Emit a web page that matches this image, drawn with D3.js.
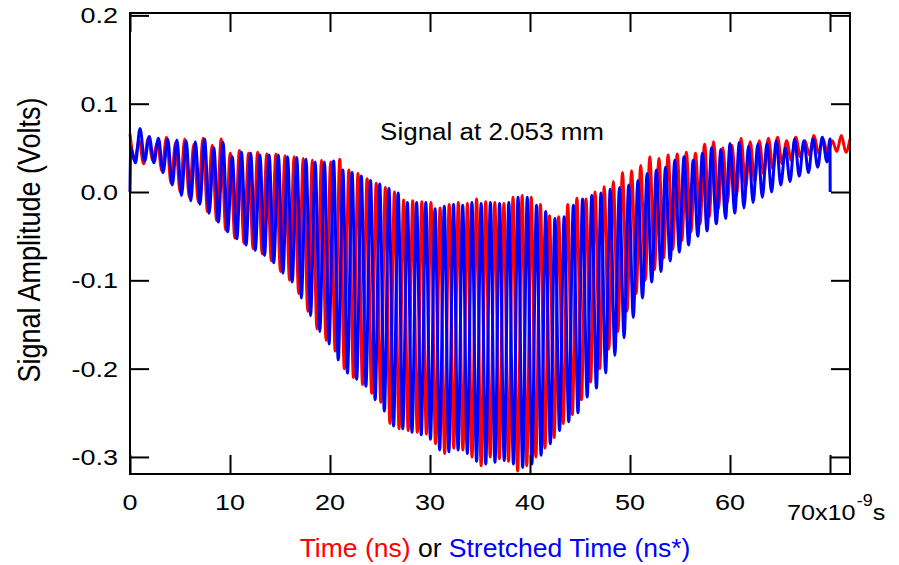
<!DOCTYPE html>
<html>
<head>
<meta charset="utf-8">
<script src="https://cdn.jsdelivr.net/npm/d3@7/dist/d3.min.js"></script>
<style>
  html, body { margin: 0; padding: 0; background: #fff; }
  svg { display: block; }
  text { font-family: "Liberation Sans", Arial, sans-serif; }
</style>
</head>
<body>
<svg id="chart" width="899" height="565"></svg>
<script>
// ---------------- DATA ----------------
const xTicks = [0, 10, 20, 30, 40, 50, 60, 70];
const yTicks = [-0.3, -0.2, -0.1, 0.0, 0.1, 0.2];
const xTickLabels = ["0", "10", "20", "30", "40", "50", "60", ""];
const yTickLabels = ["-0.3", "-0.2", "-0.1", "0.0", "0.1", "0.2"];
const titleText = "Signal at 2.053 mm";
const yLabel = "Signal Amplitude (Volts)";

// Red series "Time (ns)": one peak + one trough per oscillation cycle
const redFirstPeak = 0.0;   // ns
const redPeriod = 0.912;    // ns
const redHi = [0.066,0.058,0.061,0.057,0.062,0.056,0.060,0.054,0.061,0.053,
  0.060,0.044,0.047,0.044,0.045,0.043,0.043,0.041,0.040,0.038,
  0.036,0.036,0.034,0.037,0.025,0.021,0.015,0.010,0.005,0.000,
  -0.009,-0.010,-0.011,-0.012,-0.018,-0.014,-0.012,-0.013,-0.008,-0.011,
  -0.012,-0.013,-0.006,-0.004,-0.006,-0.014,-0.027,-0.028,-0.014,-0.007,
  -0.008,0.000,0.006,0.012,0.022,0.024,0.030,0.040,0.038,0.042,
  0.043,0.045,0.044,0.054,0.057,0.050,0.053,0.061,0.057,0.058,
  0.061,0.062,0.058,0.062,0.058,0.064,0.060,0.058,0.064];
const redLo = [0.036,0.032,0.036,0.024,0.010,0.000,-0.006,-0.012,-0.022,-0.032,
  -0.043,-0.052,-0.058,-0.064,-0.070,-0.078,-0.090,-0.100,-0.115,-0.135,
  -0.155,-0.168,-0.180,-0.200,-0.210,-0.218,-0.228,-0.238,-0.262,-0.268,
  -0.270,-0.272,-0.274,-0.285,-0.296,-0.290,-0.292,-0.300,-0.310,-0.300,
  -0.302,-0.305,-0.316,-0.310,-0.300,-0.290,-0.278,-0.262,-0.252,-0.235,
  -0.215,-0.200,-0.178,-0.158,-0.135,-0.115,-0.100,-0.088,-0.075,-0.065,
  -0.055,-0.045,-0.036,-0.028,-0.020,-0.012,-0.004,0.005,0.012,0.020,
  0.026,0.032,0.036,0.040,0.042,0.044,0.043,0.046,0.045];
const redEnd = [72.0, 0.060];

// Blue series "Stretched Time (ns*)"
const blueStart = [0.0, 0.0];
const blueFirstPeak = 0.08;
const bluePeriod = 0.922;
const blueHi = [0.050,0.072,0.063,0.061,0.060,0.059,0.058,0.057,0.060,0.050,
  0.056,0.040,0.045,0.044,0.042,0.042,0.042,0.040,0.039,0.037,
  0.034,0.034,0.035,0.025,0.022,0.018,0.013,0.009,0.004,-0.001,
  -0.012,-0.012,-0.012,-0.019,-0.016,-0.014,-0.015,-0.012,-0.013,-0.012,
  -0.013,-0.012,-0.006,-0.006,-0.015,-0.022,-0.030,-0.028,-0.015,-0.008,
  -0.004,-0.001,0.003,0.005,0.008,0.013,0.021,0.025,0.028,0.036,
  0.040,0.036,0.044,0.050,0.048,0.055,0.056,0.052,0.054,0.055,
  0.058,0.050,0.060,0.058,0.060,0.062];
const blueLo = [0.033,0.035,0.033,0.022,0.008,-0.004,-0.010,-0.014,-0.024,-0.034,
  -0.045,-0.053,-0.060,-0.066,-0.072,-0.080,-0.092,-0.102,-0.120,-0.140,
  -0.158,-0.172,-0.190,-0.205,-0.212,-0.220,-0.235,-0.248,-0.265,-0.268,
  -0.272,-0.275,-0.280,-0.292,-0.294,-0.292,-0.296,-0.305,-0.308,-0.306,
  -0.304,-0.308,-0.312,-0.308,-0.298,-0.285,-0.270,-0.260,-0.250,-0.232,
  -0.222,-0.205,-0.185,-0.165,-0.142,-0.120,-0.102,-0.090,-0.078,-0.068,
  -0.060,-0.050,-0.044,-0.036,-0.030,-0.024,-0.018,-0.012,-0.006,0.000,
  0.008,0.012,0.018,0.022,0.028,0.034];
const blueEnd = [[70.0, 0.060], [70.02, 0.0]];

// ---------------- BUILD ----------------
function series(first, period, hi, lo) {
  const pts = [];
  hi.forEach((h, k) => {
    const t = first + k * period;
    pts.push([t, h]);
    if (k < lo.length) pts.push([t + period / 2, lo[k]]);
  });
  return pts;
}
const redPts = series(redFirstPeak, redPeriod, redHi, redLo).concat([redEnd]);
const bluePts = [blueStart].concat(series(blueFirstPeak, bluePeriod, blueHi, blueLo), blueEnd);

const L = 130, R = 850, T = 13, B = 474;
const x = d3.scaleLinear().domain([0, 72]).range([L, R]);
const y = d3.scaleLinear().domain([-0.3193, 0.2027]).range([B, T]);

const svg = d3.select("#chart");
const line = d3.line().x(d => x(d[0])).y(d => y(d[1])).curve(d3.curveMonotoneX);

svg.append("path").datum(redPts).attr("d", line)
  .attr("fill", "none").attr("stroke", "#ff0000").attr("stroke-width", 3).attr("stroke-linejoin", "round");
svg.append("path").datum(bluePts).attr("d", line)
  .attr("fill", "none").attr("stroke", "#0000ff").attr("stroke-width", 3).attr("stroke-linejoin", "round");

// axes: inward ticks on all four sides
const tk = 19;
function styleAxis(g) {
  g.selectAll("text").remove();
  g.select(".domain").remove();
  g.selectAll("line").attr("stroke", "#000").attr("stroke-width", 2);
}
svg.append("g").attr("transform", `translate(0,${B})`)
  .call(d3.axisBottom(x).tickValues(xTicks).tickSizeInner(-tk).tickSizeOuter(0)).call(styleAxis);
svg.append("g").attr("transform", `translate(0,${T})`)
  .call(d3.axisTop(x).tickValues(xTicks).tickSizeInner(-tk).tickSizeOuter(0)).call(styleAxis);
svg.append("g").attr("transform", `translate(${L},0)`)
  .call(d3.axisLeft(y).tickValues(yTicks).tickSizeInner(-tk).tickSizeOuter(0)).call(styleAxis);
svg.append("g").attr("transform", `translate(${R},0)`)
  .call(d3.axisRight(y).tickValues(yTicks).tickSizeInner(-tk).tickSizeOuter(0)).call(styleAxis);

svg.append("rect").attr("x", L).attr("y", T).attr("width", R - L).attr("height", B - T)
  .attr("fill", "none").attr("stroke", "#000").attr("stroke-width", 2);

// text helpers (the reference glyphs are horizontally wide)
function stext(px, py, str, size, sx, anchor, fill) {
  return svg.append("text")
    .attr("transform", `translate(${px},${py}) scale(${sx},1)`)
    .attr("text-anchor", anchor).attr("font-size", size).attr("fill", fill || "#000")
    .text(str);
}
yTicks.forEach((v, i) => stext(118, y(v) + 8, yTickLabels[i], 22.5, 1.2, "end"));
xTicks.forEach((v, i) => { if (xTickLabels[i]) stext(x(v), 510, xTickLabels[i], 22.5, 1.2, "middle"); });

// last tick label with units: 70x10^-9 s
const unit = svg.append("text")
  .attr("transform", `translate(787,520) scale(1.12,1)`)
  .attr("font-size", 22.5).attr("fill", "#000");
unit.append("tspan").text("70x10");
unit.append("tspan").attr("font-size", 16).attr("dy", -14).attr("dx", 1).text("-9");
unit.append("tspan").attr("dy", 14).attr("dx", 0).text("s");

stext(492, 140, titleText, 23, 1.13, "middle");

// y label
svg.append("text")
  .attr("transform", `translate(40,240) scale(1.15,1) rotate(-90)`)
  .attr("text-anchor", "middle").attr("font-size", 27).attr("fill", "#000")
  .text(yLabel);

// x label with coloured parts
const xl = svg.append("text").attr("x", 495).attr("y", 557)
  .attr("text-anchor", "middle").attr("font-size", 26.5);
xl.append("tspan").attr("fill", "#ff0000").text("Time (ns)");
xl.append("tspan").attr("fill", "#000").text(" or ");
xl.append("tspan").attr("fill", "#0000ff").text("Stretched Time (ns*)");
</script>
</body>
</html>
